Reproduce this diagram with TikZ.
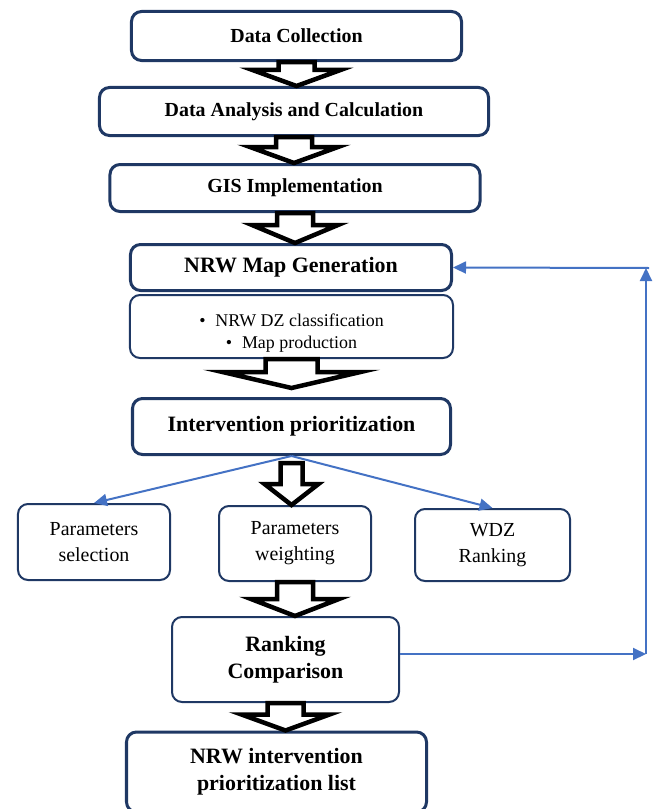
\documentclass[tikz,border=0pt]{standalone}
\usepackage[dvipsnames]{xcolor}
\usepackage{amssymb}
\usepackage{amsmath}
\usepackage{fontspec}
\setmainfont{Liberation Serif}
\usepackage{tikz}
\usetikzlibrary{arrows,arrows.meta,automata,shapes,positioning,calc}

\definecolor{boxblue}{RGB}{31,56,100}
\definecolor{linkblue}{RGB}{68,114,196}

% hollow block arrow: #1 from, #2 to, #3 half shaft, #4 half head, #5 head length
\newcommand{\blockarrow}[5]{%
  \draw[hollow] let \p1=(#1), \p2=(#2) in
    (\x1-#3,\y1) -- (\x1-#3,\y2+#5) -- (\x1-#4,\y2+#5) -- (\x1,\y2)
    -- (\x1+#4,\y2+#5) -- (\x1+#3,\y2+#5) -- (\x1+#3,\y1) -- cycle;}

\begin{document}
\begin{tikzpicture}[x=1bp, y=-1bp]
\tikzstyle{stage}=[draw=boxblue, line width=3bp, rounded corners=10bp, fill=white, align=center, inner sep=0pt, font=\bfseries\fontsize{20}{24}\selectfont]
\tikzstyle{bigstage}=[stage, font=\bfseries\fontsize{22}{27}\selectfont]
\tikzstyle{task}=[draw=boxblue, line width=2bp, rounded corners=10bp, fill=white, align=center, inner sep=0pt, font=\fontsize{20}{26}\selectfont]
\tikzstyle{hollow}=[draw=black, line width=4.5bp, fill=white, line join=miter]
\tikzstyle{flow}=[draw=linkblue, line width=2bp, -{Triangle[length=13bp,width=12bp]}]
\useasboundingbox (0,0) rectangle (657,809);

\node[stage, minimum width=330bp, minimum height=49bp] (0) at (296.5,36) {Data Collection};
\node[stage, minimum width=389bp, minimum height=48bp] (1) at (294,111.5) {Data Analysis and Calculation};
\node[stage, minimum width=370bp, minimum height=47bp] (2) at (295,188) {GIS Implementation};
\node[bigstage, minimum width=321bp, minimum height=46bp] (3) at (291,267.5) {NRW Map Generation};
\node[task, minimum width=323bp, minimum height=63bp,
  label={[font=\fontsize{18}{22}\selectfont, align=center, yshift=-7bp]center:{\textbullet\hspace{0.55em}NRW DZ classification\\\textbullet\hspace{0.55em}Map production}}] (4) at (291.5,326.5) {};
\node[bigstage, minimum width=318bp, minimum height=56bp] (5) at (291.5,426.5) {Intervention prioritization};
\node[task, minimum width=152bp, minimum height=76bp] (6) at (94,542) {Parameters\\selection};
\node[task, minimum width=152bp, minimum height=75bp] (7) at (295,543.5) {Parameters\\weighting};
\node[task, minimum width=155bp, minimum height=72bp] (8) at (492.5,545) {WDZ\\Ranking};
\node[bigstage, line width=2bp, minimum width=227bp, minimum height=85bp] (9) at (285.5,659.5) {Ranking\\Comparison};
\node[bigstage, minimum width=300bp, minimum height=80bp] (10) at (276.5,772) {NRW intervention\\prioritization list};

%\node[task] (11) [right=1cm of 8] {};
\coordinate (c1) at (646,654);
\coordinate (c2) at (646,268);

% main chain
\blockarrow{0.south}{1.north}{18bp}{44bp}{16bp}
\blockarrow{1.south}{2.north}{18bp}{44bp}{16bp}
\blockarrow{2.south}{3.north}{18bp}{43bp}{18bp}
\blockarrow{4.south}{$(5.north)+(0,-9)$}{26bp}{69bp}{16bp}
\blockarrow{$(5.south)+(0,7)$}{7.north}{11bp}{27bp}{21bp}
\blockarrow{7.south}{9.north}{18bp}{44bp}{17bp}
\blockarrow{9.south}{10.north}{18bp}{44bp}{16bp}

% side links and feedback loop
\draw[flow] (5.south) to (6.north);
\draw[flow] (5.south) to (8.north);
\draw[flow] (9.east |- c1) to (c1);
\draw[flow] (c1) to (c2);
\draw[flow] ($(c2)+(3,0)$) to (3.east);

\end{tikzpicture}
\end{document}
